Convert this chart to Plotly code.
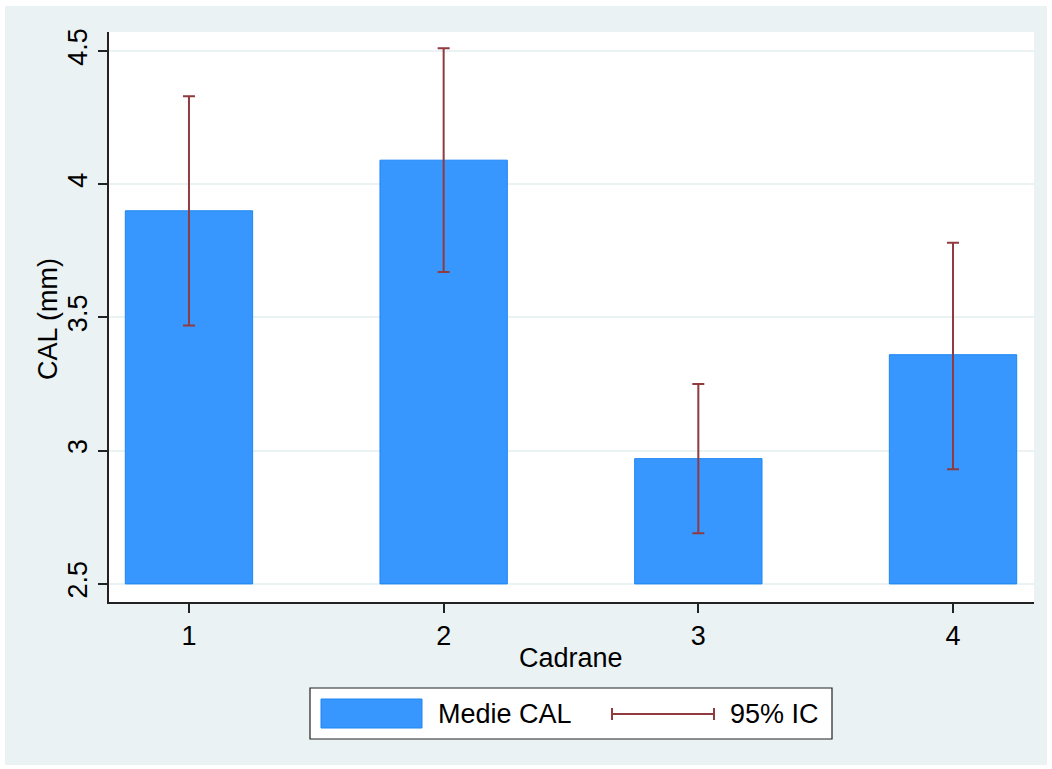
import plotly.graph_objects as go

# Mean CAL per quadrant with 95% confidence interval
cadrane = [1, 2, 3, 4]
medie_cal = [3.90, 4.09, 2.97, 3.36]
ic_inf = [3.47, 3.67, 2.69, 2.93]
ic_sup = [4.33, 4.51, 3.25, 3.78]
y_ticks = [2.5, 3, 3.5, 4, 4.5]
y_tick_text = ["2.5", "3", "3.5", "4", "4.5"]
baza = 2.5

W, H = 1052, 769
L, R, T, B = 109, 1034, 32, 602  # plot-area edges in pixels

FONT = "Liberation Sans, Arial, Helvetica, sans-serif"
FS = 27
BLUE = "#3797FE"
BLUE_EDGE = "#1C86F4"
MAROON = "#8F3B3F"
BG = "#EAF2F3"


def px(x):
    return (x - L) / (R - L)


def py(y):
    return (B - y) / (B - T)


fig = go.Figure()

fig.add_trace(go.Bar(
    x=cadrane,
    y=[m - baza for m in medie_cal],
    base=baza,
    width=0.5,
    marker=dict(color=BLUE, line=dict(color=BLUE_EDGE, width=1)),
    name="Medie CAL",
    showlegend=False,
))

fig.add_trace(go.Scatter(
    x=cadrane,
    y=medie_cal,
    mode="markers",
    marker=dict(size=1, opacity=0),
    error_y=dict(
        type="data",
        symmetric=False,
        array=[s - m for s, m in zip(ic_sup, medie_cal)],
        arrayminus=[m - i for m, i in zip(medie_cal, ic_inf)],
        color=MAROON,
        thickness=2,
        width=6,
    ),
    name="95% IC",
    showlegend=False,
))

shapes = [
    # outer graph region
    dict(type="rect", xref="paper", yref="paper",
         x0=px(5), x1=px(1047), y0=py(765), y1=py(6),
         fillcolor=BG, line=dict(width=0), layer="below"),
    # plot region
    dict(type="rect", xref="paper", yref="paper",
         x0=0, x1=1, y0=0, y1=1,
         fillcolor="white", line=dict(width=0), layer="below"),
    # legend frame
    dict(type="rect", xref="paper", yref="paper",
         x0=px(310), x1=px(832), y0=py(739), y1=py(688),
         fillcolor="white", line=dict(color="#222222", width=1.2)),
    # legend bar key
    dict(type="rect", xref="paper", yref="paper",
         x0=px(321), x1=px(422), y0=py(728), y1=py(699),
         fillcolor=BLUE, line=dict(color=BLUE_EDGE, width=1)),
    # legend CI key
    dict(type="line", xref="paper", yref="paper",
         x0=px(612), x1=px(714), y0=py(714), y1=py(714),
         line=dict(color=MAROON, width=2)),
    dict(type="line", xref="paper", yref="paper",
         x0=px(612), x1=px(612), y0=py(720), y1=py(708),
         line=dict(color=MAROON, width=2)),
    dict(type="line", xref="paper", yref="paper",
         x0=px(714), x1=px(714), y0=py(720), y1=py(708),
         line=dict(color=MAROON, width=2)),
]

annotations = [
    dict(text="CAL (mm)", xref="paper", yref="paper",
         x=px(48), y=py(319), textangle=-90, showarrow=False,
         xanchor="center", yanchor="middle",
         font=dict(family=FONT, size=FS, color="black")),
    dict(text="Cadrane", xref="paper", yref="paper",
         x=px(571), y=py(658), showarrow=False,
         xanchor="center", yanchor="middle",
         font=dict(family=FONT, size=FS, color="black")),
    dict(text="Medie CAL", xref="paper", yref="paper",
         x=px(436), y=py(714), showarrow=False,
         xanchor="left", yanchor="middle",
         font=dict(family=FONT, size=FS, color="black")),
    dict(text="95% IC", xref="paper", yref="paper",
         x=px(728), y=py(714), showarrow=False,
         xanchor="left", yanchor="middle",
         font=dict(family=FONT, size=FS, color="black")),
]

fig.update_layout(
    width=W, height=H,
    margin=dict(l=L, r=W - R, t=T, b=H - B, autoexpand=False),
    paper_bgcolor="white",
    plot_bgcolor="white",
    font=dict(family=FONT, size=FS, color="black"),
    showlegend=False,
    shapes=shapes,
    annotations=annotations,
    xaxis=dict(
        range=[0.686, 4.318],
        tickvals=cadrane,
        ticktext=[str(c) for c in cadrane],
        ticks="outside", ticklen=9, tickwidth=1.5, tickcolor="#222222",
        showline=True, linecolor="#222222", linewidth=1.5,
        showgrid=False, zeroline=False,
        tickfont=dict(family=FONT, size=FS, color="black"),
    ),
    yaxis=dict(
        range=[2.432, 4.571],
        tickvals=y_ticks,
        ticktext=y_tick_text,
        tickangle=-90,
        ticks="outside", ticklen=9, tickwidth=1.5, tickcolor="#222222",
        showline=True, linecolor="#222222", linewidth=1.5,
        showgrid=True, gridcolor=BG, gridwidth=2,
        zeroline=False,
        tickfont=dict(family=FONT, size=FS, color="black"),
    ),
)

fig.write_html("out.html")
